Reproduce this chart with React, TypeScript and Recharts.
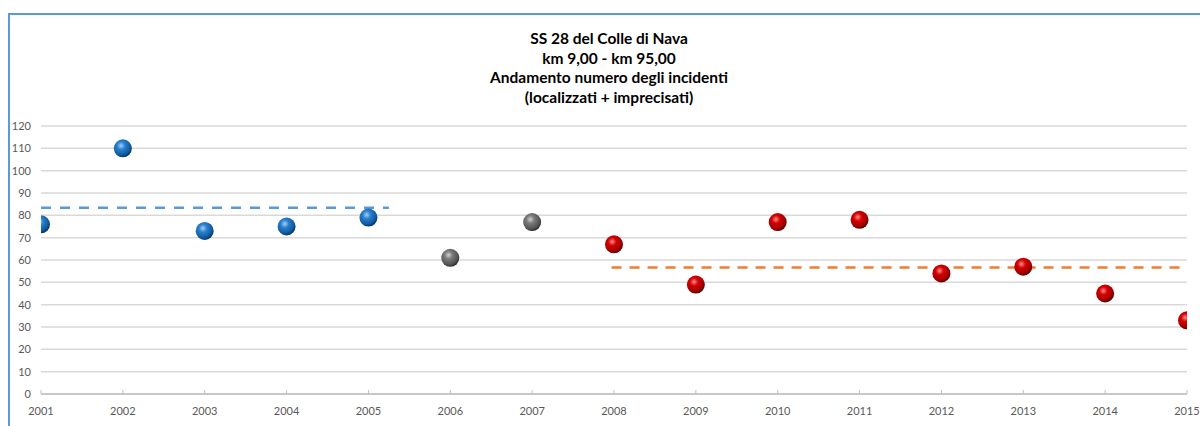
import React from 'react';
import { ScatterChart, Scatter, XAxis, YAxis, CartesianGrid, ReferenceLine } from 'recharts';

// dati
const anni = [2001, 2002, 2003, 2004, 2005, 2006, 2007, 2008, 2009, 2010, 2011, 2012, 2013, 2014, 2015];
const incidenti = [76, 110, 73, 75, 79, 61, 77, 67, 49, 77, 78, 54, 57, 45, 33];
const periodo = ['prima', 'prima', 'prima', 'prima', 'prima', 'transizione', 'transizione', 'dopo', 'dopo', 'dopo', 'dopo', 'dopo', 'dopo', 'dopo', 'dopo'];
const yTicks = [0, 10, 20, 30, 40, 50, 60, 70, 80, 90, 100, 110, 120];

const mediaPrima = 83.4;
const intervalloPrima = [2001, 2005.25];
const mediaDopo = 56.6;
const intervalloDopo = [2007.97, 2015];

const titolo = ['SS 28 del Colle di Nava', 'km 9,00 - km 95,00', 'Andamento numero degli incidenti', '(localizzati + imprecisati)'];

const punti = anni.map((anno, i) => ({ anno, incidenti: incidenti[i], periodo: periodo[i] }));
const datiPrima = punti.filter((p) => p.periodo === 'prima');
const datiTransizione = punti.filter((p) => p.periodo === 'transizione');
const datiDopo = punti.filter((p) => p.periodo === 'dopo');

const font = 'Lato, "Open Sans", sans-serif';

const sfera = (grad: string) => (props: any) => (
    <circle cx={props.cx} cy={props.cy} r={9} fill={`url(#${grad})`} />
);

const XTick = (props: any) => {
    const { x, y, payload } = props;
    return (
        <g>
            <line x1={x} x2={x} y1={y - 4} y2={y} stroke="#bfbfbf" />
            <text x={x} y={y + 21} textAnchor="middle" fontSize={11} fill="#595959" fontFamily={font}>
                {payload.value}
            </text>
        </g>
    );
};

export default function App() {
    return (
        <div style={{ position: 'absolute', left: 0, top: 0, width: 1200, height: 426, overflow: 'hidden', background: '#fff' }}>
            <div style={{ position: 'absolute', left: 8, top: 13, width: 1300, height: 600, borderLeft: '2px solid #5b9bd5', borderTop: '2px solid #5b9bd5' }} />
            <div style={{ position: 'absolute', left: 409, top: 29, width: 400, textAlign: 'center', fontFamily: font, fontWeight: 700, fontSize: 15.5, lineHeight: '19.7px', color: '#000' }}>
                {titolo.map((t) => <div key={t}>{t}</div>)}
            </div>
            <div style={{ position: 'absolute', left: 0, top: 0 }}>
                <ScatterChart width={1200} height={426} margin={{ top: 126, right: 13, bottom: 0, left: 0 }}>
                    <defs>
                        <radialGradient id="gradBlu" cx="40%" cy="35%" r="65%">
                            <stop offset="0%" stopColor="#9fd0ff" />
                            <stop offset="35%" stopColor="#2a7fcc" />
                            <stop offset="80%" stopColor="#0f5a9e" />
                            <stop offset="100%" stopColor="#083563" />
                        </radialGradient>
                        <radialGradient id="gradGrigio" cx="40%" cy="35%" r="65%">
                            <stop offset="0%" stopColor="#d0d0d0" />
                            <stop offset="35%" stopColor="#7a7a7a" />
                            <stop offset="80%" stopColor="#555555" />
                            <stop offset="100%" stopColor="#2e2e2e" />
                        </radialGradient>
                        <radialGradient id="gradRosso" cx="40%" cy="35%" r="65%">
                            <stop offset="0%" stopColor="#ff8a8a" />
                            <stop offset="35%" stopColor="#d40000" />
                            <stop offset="80%" stopColor="#a00000" />
                            <stop offset="100%" stopColor="#5a0000" />
                        </radialGradient>
                    </defs>
                    <CartesianGrid vertical={false} stroke="#d9d9d9" strokeWidth={1.5} />
                    <XAxis
                        type="number"
                        dataKey="anno"
                        domain={[2001, 2015]}
                        ticks={anni}
                        interval={0}
                        allowDataOverflow
                        height={32}
                        tickSize={0}
                        tickMargin={0}
                        tickLine={false}
                        axisLine={{ stroke: '#bfbfbf', strokeWidth: 1.5 }}
                        tick={<XTick />}
                    />
                    <YAxis
                        type="number"
                        dataKey="incidenti"
                        domain={[0, 120]}
                        ticks={yTicks}
                        interval={0}
                        width={41}
                        axisLine={false}
                        tickLine={false}
                        tickMargin={4}
                        tick={{ fontSize: 11, fill: '#595959', fontFamily: font }}
                    />
                    <ReferenceLine
                        segment={[{ x: intervalloPrima[0], y: mediaPrima }, { x: intervalloPrima[1], y: mediaPrima }]}
                        stroke="#5b9bd5"
                        strokeWidth={2.5}
                        strokeDasharray="10 9"
                    />
                    <ReferenceLine
                        segment={[{ x: intervalloDopo[0], y: mediaDopo }, { x: intervalloDopo[1], y: mediaDopo }]}
                        stroke="#ed7d31"
                        strokeWidth={2.5}
                        strokeDasharray="10 8"
                    />
                    <Scatter data={datiPrima} shape={sfera('gradBlu')} isAnimationActive={false} />
                    <Scatter data={datiTransizione} shape={sfera('gradGrigio')} isAnimationActive={false} />
                    <Scatter data={datiDopo} shape={sfera('gradRosso')} isAnimationActive={false} />
                </ScatterChart>
            </div>
        </div>
    );
}
